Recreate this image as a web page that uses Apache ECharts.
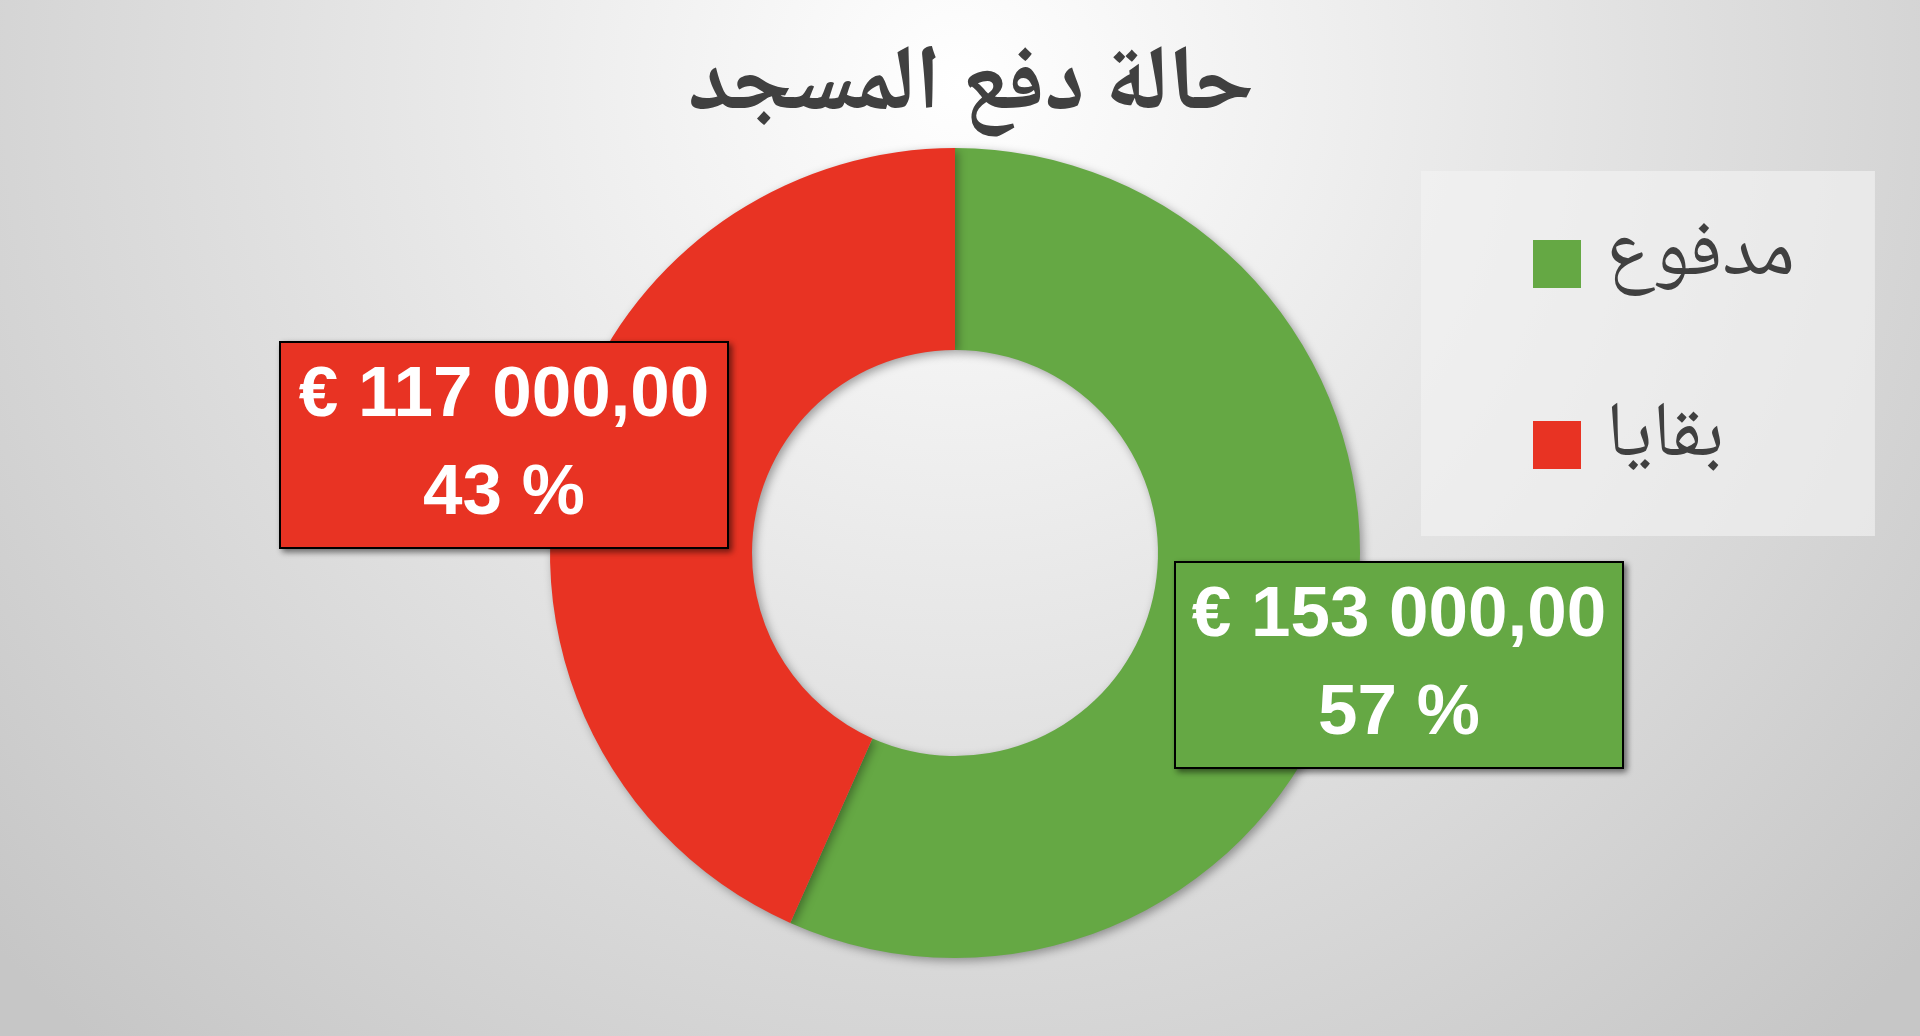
<!DOCTYPE html>
<html>
<head>
<meta charset="utf-8">
<script src="https://cdn.jsdelivr.net/npm/echarts@6/dist/echarts.min.js"></script>
<style>
    html, body { margin: 0; padding: 0; width: 100%; height: 100%; overflow: hidden; }
    #chart { width: 1920px; height: 1036px; }
</style>
</head>
<body>
<div id="chart"></div>
<script>
const chartTitle = 'حالة دفع المسجد';
const categories = ['مدفوع', 'بقايا'];
const amounts = [153000, 117000];

const sliceColors = ['#65a844', '#e83323'];
// where the excel-like label boxes sit (center of box)
const labelCenters = [[1399, 665], [504, 445]];

function formatEuro(value) {
    const parts = value.toFixed(2).split('.');
    const intPart = parts[0].replace(/\B(?=(\d{3})+(?!\d))/g, ' ');
    return '€ ' + intPart + ',' + parts[1];
}

const myChart = echarts.init(document.getElementById('chart'));

const option = {
    backgroundColor: {
        type: 'radial',
        x: 0.5,
        y: 0.08,
        r: 1.25,
        colorStops: [
            { offset: 0, color: '#ffffff' },
            { offset: 1, color: '#c6c6c6' }
        ]
    },
    title: {
        text: chartTitle,
        left: 966,
        top: 46,
        textAlign: 'center',
        textStyle: {
            fontSize: 92,
            fontWeight: 'bold',
            color: '#404040',
            fontFamily: '"Noto Naskh Arabic", "Noto Sans Arabic", "DejaVu Sans", sans-serif'
        }
    },
    legend: {
        orient: 'vertical',
        left: 1421,
        top: 171,
        backgroundColor: 'rgba(242, 242, 242, 0.65)',
        padding: [53, 80, 51, 112],
        itemWidth: 48,
        itemHeight: 48,
        itemGap: 101,
        itemTextGap: 5,
        icon: 'rect',
        data: categories,
        textStyle: {
            fontSize: 78,
            lineHeight: 80,
            color: '#404040',
            padding: [0, 0, 0, 20],
            fontFamily: '"Noto Naskh Arabic", "Noto Sans Arabic", "DejaVu Sans", sans-serif'
        }
    },
    series: [
        {
            type: 'pie',
            center: [955, 553],
            radius: [203, 405],
            startAngle: 90,
            clockwise: true,
            avoidLabelOverlap: false,
            data: categories.map((name, i) => ({
                name: name,
                value: amounts[i],
                itemStyle: { color: sliceColors[i] },
                label: { backgroundColor: sliceColors[i] }
            })),
            itemStyle: {
                shadowBlur: 10,
                shadowColor: 'rgba(0, 0, 0, 0.35)',
                shadowOffsetX: 3,
                shadowOffsetY: 3
            },
            emphasis: { scale: false },
            labelLine: { show: false },
            label: {
                show: true,
                position: 'inside',
                formatter: function (params) {
                    return formatEuro(params.value) + '\n' + Math.round(params.percent) + ' %';
                },
                color: '#ffffff',
                fontSize: 71,
                fontWeight: 'bold',
                fontFamily: '"Liberation Sans", Arial, sans-serif',
                lineHeight: 98,
                align: 'center',
                width: 440,
                overflow: 'none',
                padding: [8, 3, 0, 3],
                borderColor: '#000000',
                borderWidth: 2,
                shadowBlur: 6,
                shadowColor: 'rgba(0, 0, 0, 0.45)',
                shadowOffsetX: 3,
                shadowOffsetY: 3
            },
            labelLayout: function (params) {
                const c = labelCenters[params.dataIndex];
                return {
                    x: c[0],
                    y: c[1],
                    align: 'center',
                    verticalAlign: 'middle'
                };
            }
        }
    ]
};

myChart.setOption(option);

window.addEventListener('resize', function () {
    myChart.resize();
});
</script>
</body>
</html>
